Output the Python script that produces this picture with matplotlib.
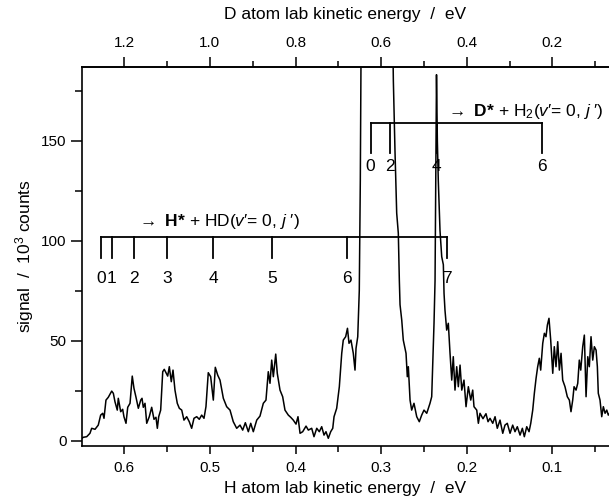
import numpy as np
import matplotlib
matplotlib.use("Agg")
import matplotlib.pyplot as plt
from matplotlib.ticker import MultipleLocator, FixedLocator, FormatStrFormatter

plt.rcParams['font.family'] = ['Liberation Sans', 'DejaVu Sans']
plt.rcParams['mathtext.fontset'] = 'custom'
plt.rcParams['mathtext.rm'] = 'Liberation Sans'
plt.rcParams['mathtext.it'] = 'Liberation Sans:italic'
plt.rcParams['mathtext.bf'] = 'Liberation Sans:bold'

# H atom lab kinetic energy (eV) and signal (10^3 counts)
energy = [0.6494, 0.6479, 0.6439, 0.6401, 0.6381, 0.6342, 0.6304, 0.6276, 0.6252, 0.6237,
          0.6214, 0.6187, 0.6147, 0.6128, 0.6109, 0.6082, 0.6070, 0.6042, 0.6019, 0.6004,
          0.5980, 0.5960, 0.5933, 0.5907, 0.5887, 0.5863, 0.5836, 0.5808, 0.5793, 0.5778,
          0.5758, 0.5738, 0.5708, 0.5680, 0.5653, 0.5630, 0.5614, 0.5598, 0.5575, 0.5551,
          0.5533, 0.5513, 0.5493, 0.5474, 0.5451, 0.5431, 0.5408, 0.5381, 0.5357, 0.5329,
          0.5303, 0.5271, 0.5241, 0.5213, 0.5186, 0.5154, 0.5124, 0.5096, 0.5069, 0.5046,
          0.5019, 0.4991, 0.4960, 0.4937, 0.4909, 0.4882, 0.4864, 0.4843, 0.4804, 0.4765,
          0.4727, 0.4687, 0.4648, 0.4617, 0.4586, 0.4551, 0.4523, 0.4493, 0.4453, 0.4415,
          0.4376, 0.4345, 0.4318, 0.4298, 0.4278, 0.4259, 0.4231, 0.4213, 0.4181, 0.4150,
          0.4123, 0.4084, 0.4056, 0.4026, 0.3994, 0.3971, 0.3947, 0.3916, 0.3877, 0.3850,
          0.3811, 0.3784, 0.3752, 0.3722, 0.3694, 0.3667, 0.3644, 0.3617, 0.3589, 0.3565,
          0.3550, 0.3519, 0.3488, 0.3460, 0.3442, 0.3414, 0.3393, 0.3375, 0.3352, 0.3325,
          0.3305, 0.3293, 0.3273, 0.3255, 0.3243, 0.3235, 0.3217, 0.3130, 0.3036, 0.2943,
          0.2873, 0.2857, 0.2838, 0.2818, 0.2799, 0.2787, 0.2779, 0.2759, 0.2741, 0.2709,
          0.2694, 0.2682, 0.2662, 0.2643, 0.2616, 0.2584, 0.2554, 0.2526, 0.2499, 0.2467,
          0.2429, 0.2409, 0.2397, 0.2382, 0.2370, 0.2362, 0.2353, 0.2343, 0.2332, 0.2312,
          0.2292, 0.2273, 0.2265, 0.2254, 0.2234, 0.2215, 0.2195, 0.2175, 0.2157, 0.2137,
          0.2117, 0.2098, 0.2078, 0.2058, 0.2032, 0.2008, 0.1981, 0.1953, 0.1930, 0.1915,
          0.1883, 0.1864, 0.1845, 0.1810, 0.1775, 0.1751, 0.1728, 0.1696, 0.1669, 0.1643,
          0.1611, 0.1579, 0.1553, 0.1526, 0.1494, 0.1463, 0.1436, 0.1409, 0.1377, 0.1350,
          0.1327, 0.1299, 0.1272, 0.1252, 0.1229, 0.1210, 0.1190, 0.1171, 0.1152, 0.1136,
          0.1112, 0.1093, 0.1074, 0.1058, 0.1039, 0.1019, 0.0995, 0.0977, 0.0957, 0.0937,
          0.0918, 0.0898, 0.0879, 0.0852, 0.0825, 0.0801, 0.0782, 0.0762, 0.0746, 0.0723,
          0.0703, 0.0685, 0.0668, 0.0645, 0.0626, 0.0606, 0.0586, 0.0568, 0.0548, 0.0528,
          0.0509, 0.0489, 0.0474, 0.0463, 0.0443, 0.0423, 0.0404, 0.0384, 0.0364, 0.0346,
          0.0326]
signal = [1.2, 1.7, 2.0, 3.7, 6.2, 5.7, 7.8, 12.8, 13.7, 11.2,
          20.3, 21.7, 24.8, 23.7, 19.5, 15.3, 21.2, 14.5, 15.7, 12.0,
          8.7, 16.7, 18.7, 32.3, 26.2, 21.7, 16.2, 20.3, 21.2, 16.7,
          18.7, 8.7, 12.0, 16.7, 10.7, 11.7, 6.2, 12.0, 15.3, 34.5,
          35.7, 34.0, 32.3, 37.0, 29.5, 35.3, 25.3, 18.7, 16.2, 15.3,
          10.3, 12.0, 9.5, 6.2, 11.2, 12.0, 10.7, 12.8, 11.2, 17.0,
          34.0, 32.0, 20.3, 36.7, 32.8, 30.3, 26.2, 21.2, 17.0, 15.3,
          9.5, 6.2, 7.8, 5.3, 9.0, 4.5, 8.7, 4.5, 10.3, 12.3,
          18.7, 20.3, 34.5, 28.7, 40.3, 32.0, 43.3, 33.7, 25.3, 22.0,
          15.3, 12.8, 11.7, 10.3, 8.3, 12.0, 3.7, 4.5, 7.3, 5.3,
          6.2, 2.0, 6.2, 4.5, 7.0, 2.8, 4.5, 1.2, 4.5, 6.2,
          12.0, 16.2, 27.0, 43.7, 50.3, 52.0, 56.2, 48.7, 50.3, 43.7,
          35.3, 46.2, 52.0, 75.0, 130.0, 190.0, 260.0, 300.0, 250.0, 280.0,
          230.0, 180.0, 145.0, 113.8, 103.7, 80.0, 68.0, 60.3, 50.3, 43.7,
          32.0, 37.0, 20.3, 15.3, 18.7, 12.0, 9.5, 12.8, 15.3, 13.7,
          18.7, 22.0, 38.7, 58.7, 80.0, 130.0, 183.0, 150.0, 130.0, 105.0,
          92.0, 88.0, 73.7, 65.3, 55.3, 58.7, 43.7, 30.3, 42.0, 25.3,
          37.0, 27.0, 37.8, 25.3, 30.3, 17.0, 27.0, 20.3, 25.3, 17.0,
          15.3, 8.7, 13.7, 11.0, 13.5, 9.5, 11.2, 8.7, 12.0, 6.2,
          10.3, 3.7, 7.8, 8.7, 3.7, 7.8, 4.5, 7.0, 2.8, 6.2,
          2.0, 7.0, 4.5, 8.7, 15.3, 23.7, 31.2, 37.0, 41.2, 35.3,
          48.7, 53.7, 52.0, 57.8, 61.2, 50.3, 33.7, 47.0, 37.0, 49.5,
          35.3, 43.7, 30.3, 27.0, 22.0, 20.3, 14.5, 20.3, 27.0, 25.3,
          28.7, 40.3, 35.3, 47.0, 52.8, 22.0, 42.0, 37.0, 52.0, 40.3,
          47.0, 45.3, 37.0, 23.7, 20.3, 12.0, 17.0, 13.7, 15.3, 12.8,
          14.0]

# Rotational state combs (positions in H-atom energy units, eV)
h_labels = ['0', '1', '2', '3', '4', '5', '6', '7']
h_pos = [0.6272, 0.6144, 0.5883, 0.5498, 0.4960, 0.4275, 0.3400, 0.2234]
d_labels = ['0', '2', '4', '6']
d_pos = [0.3122, 0.2896, 0.2350, 0.1124]

top_ticks = [0.2, 0.4, 0.6, 0.8, 1.0, 1.2]
top_minor = [0.1, 0.3, 0.5, 0.7, 0.9, 1.1, 1.3]

fig = plt.figure(figsize=(6.09, 4.98), dpi=100)
ax = fig.add_axes([82 / 609, 52.3 / 498, 1 - 82 / 609, 379 / 498])

ax.plot(energy, signal, color='black', lw=1.1)
ax.set_xlim(0.6494, 0.0338)
ax.set_ylim(-2.5, 187)

ax.spines['right'].set_visible(False)
for s in ['left', 'bottom', 'top']:
    ax.spines[s].set_linewidth(1.2)

ax.xaxis.set_major_locator(MultipleLocator(0.1))
ax.xaxis.set_minor_locator(MultipleLocator(0.05))
ax.xaxis.set_major_formatter(FormatStrFormatter('%.1f'))
ax.yaxis.set_major_locator(MultipleLocator(50))
ax.yaxis.set_minor_locator(MultipleLocator(25))
ax.tick_params(axis='x', which='major', direction='out', length=6, width=1.1, labelsize=11, pad=5)
ax.tick_params(axis='x', which='minor', direction='out', length=4, width=1.1)
ax.tick_params(axis='y', which='major', direction='out', length=8, width=1.1, labelsize=11, pad=3)
ax.tick_params(axis='y', which='minor', direction='out', length=5, width=1.1)

ax.set_xlabel('H atom lab kinetic energy  /  eV', fontsize=12.5, labelpad=4)
ax.set_ylabel(r'signal  /  10$^3$ counts', fontsize=12.5, labelpad=4)

sec = ax.secondary_xaxis('top', functions=(lambda x: 2 * x, lambda x: x / 2))
sec.xaxis.set_major_locator(FixedLocator(top_ticks))
sec.xaxis.set_minor_locator(FixedLocator(top_minor))
sec.xaxis.set_major_formatter(FormatStrFormatter('%.1f'))
sec.tick_params(axis='x', which='major', direction='out', length=7, width=1.1, labelsize=11, pad=5)
sec.tick_params(axis='x', which='minor', direction='out', length=4, width=1.1)
sec.spines['top'].set_linewidth(1.2)
sec.set_xlabel('D atom lab kinetic energy  /  eV', fontsize=12.5, labelpad=12)

# H* comb
ax.plot([h_pos[0], h_pos[-1]], [102, 102], color='black', lw=1.3)
for p, lab in zip(h_pos, h_labels):
    ax.plot([p, p], [102, 91.3], color='black', lw=1.3)
    ax.text(p, 81, lab, ha='center', va='center', fontsize=12.5)
ax.text(0.4905, 109.5, r"$\rightarrow$ $\mathbf{H}\mathbf{*}$ + HD($v$′= 0, $j$ ′)",
        ha='center', va='center', fontsize=12.5)

# D* comb
ax.plot([d_pos[0], d_pos[-1]], [158.7, 158.7], color='black', lw=1.3)
for p, lab in zip(d_pos, d_labels):
    ax.plot([p, p], [158.7, 144], color='black', lw=1.3)
    ax.text(p, 137, lab, ha='center', va='center', fontsize=12.5)
ax.text(0.1319, 164.5, r"$\rightarrow$ $\mathbf{D}\mathbf{*}$ + H$_2$($v$′= 0, $j$ ′)",
        ha='center', va='center', fontsize=12.5)

fig.savefig('out.png', dpi=100)
